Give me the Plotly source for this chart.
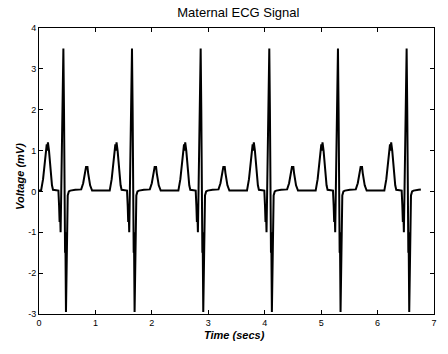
import plotly.graph_objects as go

# Beat template: offsets (s) relative to each R peak, and voltage (mV)
beat_offsets = [-0.395, -0.360, -0.325, -0.295, -0.285, -0.274, -0.255, -0.228, -0.202, -0.184,
                -0.088, -0.076, -0.067, -0.060, -0.049, -0.040, -0.028, -0.021, -0.012, -0.007,
                0.000, 0.011, 0.021, 0.030, 0.035, 0.046, 0.053, 0.063, 0.077, 0.097,
                0.123, 0.211, 0.281, 0.316, 0.351, 0.386, 0.404, 0.414, 0.425, 0.439,
                0.474, 0.509]
beat_values = [0.02, 0.30, 0.75, 1.15, 1.00, 1.20, 1.00, 0.50, 0.15, 0.04,
               0.02, -0.35, -0.75, -0.40, -1.00, -0.20, 1.20, 0.80, 2.75, 2.30,
               3.50, 2.00, -0.50, -1.50, -1.00, -2.95, -2.10, -1.20, -0.10, 0.00,
               0.02, 0.04, 0.05, 0.05, 0.20, 0.45, 0.62, 0.55, 0.62, 0.45,
               0.15, 0.02]

# R-peak times (s)
r_peak_times = [0.432, 1.648, 2.865, 4.081, 5.298, 6.515]

trace_start = 0.0
trace_start_value = 0.02
trace_end = 6.767
trace_end_value = 0.05

x_ticks = [0, 1, 2, 3, 4, 5, 6, 7]
y_ticks = [-3, -2, -1, 0, 1, 2, 3, 4]
y_tick_labels = ["-3", "-2", "-1", "0", "1", "2", "3", "4"]

# Assemble the trace from the template and the beat times
t = [trace_start]
v = [trace_start_value]
for r in r_peak_times:
    for off, val in zip(beat_offsets, beat_values):
        tt = r + off
        if trace_start < tt < trace_end:
            t.append(tt)
            v.append(val)
t.append(trace_end)
v.append(trace_end_value)

fig = go.Figure()
fig.add_trace(go.Scatter(x=t, y=v, mode="lines",
                         line=dict(color="black", width=2), showlegend=False))

font_family = "Liberation Sans, Arial, sans-serif"
axis_common = dict(showline=True, linecolor="black", linewidth=1, mirror="ticks",
                   ticks="inside", ticklen=4, tickcolor="black", tickwidth=1,
                   showgrid=False, zeroline=False,
                   tickfont=dict(family=font_family, size=9, color="black"))

fig.update_layout(
    width=448, height=354,
    margin=dict(l=39, r=11, t=28, b=40),
    paper_bgcolor="white", plot_bgcolor="white",
    title=dict(text="Maternal ECG Signal", x=0.532, xanchor="center",
               y=(354 - 12) / 354, yanchor="middle",
               font=dict(family=font_family, size=13, color="black")),
    xaxis=dict(range=[0, 7], tickvals=x_ticks, ticktext=[str(k) for k in x_ticks], **axis_common),
    yaxis=dict(range=[-3, 4], tickvals=y_ticks, ticktext=y_tick_labels, **axis_common),
    annotations=[
        dict(text="<b><i>Time (secs)</i></b>", xref="paper", yref="paper",
             x=0.495, y=-0.073, xanchor="center", yanchor="middle", showarrow=False,
             font=dict(family=font_family, size=11, color="black")),
        dict(text="<b><i>Voltage (mV)</i></b>", xref="paper", yref="paper",
             x=-0.05, y=0.48, xanchor="center", yanchor="middle", showarrow=False,
             textangle=-90, font=dict(family=font_family, size=11, color="black")),
    ],
)

fig.write_html("out.html", config={"displayModeBar": False},
               post_script="document.body.style.margin='0';")
